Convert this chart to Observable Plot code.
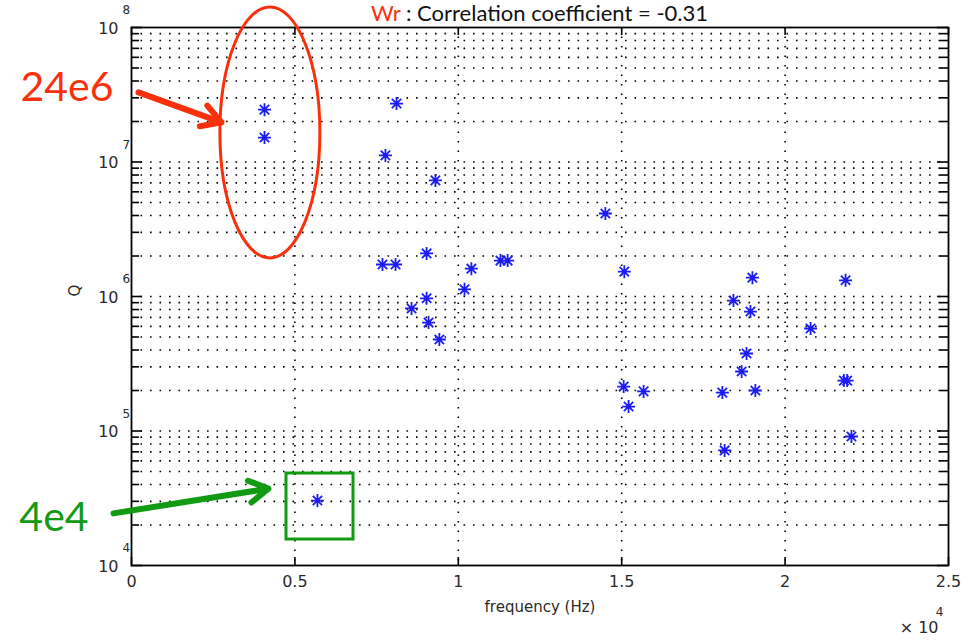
<!DOCTYPE html>
<html><head><meta charset="utf-8">
<script src="https://cdn.jsdelivr.net/npm/d3@7"></script>
<script src="https://cdn.jsdelivr.net/npm/@observablehq/plot@0.6"></script>
<style>body{margin:0;background:#fff;overflow:hidden} svg{display:block}</style>
</head><body><div id="chart"></div>
<script>
// ---- data (frequency in Hz, quality factor Q) ----
const freqHz = [4070, 4070, 8110, 7770, 9300, 7680, 8080, 9030, 10400, 10190, 11290, 11510,
  9030, 8570, 9090, 9420, 14500, 15080, 15060, 15210, 15670, 18080, 18150, 19000, 18420,
  18940, 18820, 18670, 19090, 20780, 21850, 21800, 21900, 22030, 5690];
const qValues = [2.45e7, 1.52e7, 2.72e7, 1.12e7, 7.3e6, 1.73e6, 1.73e6, 2.09e6, 1.61e6, 1.13e6, 1.85e6, 1.85e6,
  9.7e5, 8.15e5, 6.4e5, 4.79e5, 4.14e6, 1.53e6, 2.14e5, 1.52e5, 1.97e5, 1.93e5, 7.17e4, 1.38e6, 9.33e5,
  7.73e5, 3.77e5, 2.77e5, 2.0e5, 5.78e5, 1.32e6, 2.37e5, 2.37e5, 9.1e4, 3.04e4];

const xTicks = [0, 5000, 10000, 15000, 20000, 25000];
const xTickLabels = ["0", "0.5", "1", "1.5", "2", "2.5"];
const xGrid = [5000, 10000, 15000, 20000];
const yMajor = [1e4, 1e5, 1e6, 1e7, 1e8];
const yExponents = ["4", "5", "6", "7", "8"];
const titleRed = "Wr";
const titleRest = " : Correlation coefficient = -0.31";

// annotations (data coordinates)
const redLabel = ["24e6"];
const redLabelPos = [-1974, 3.58e7];
const redArrow = [214, 3.29e7, 2754, 1.97e7];
const redEllipse = [2720, 5780, 1.41e8, 1.92e6];   // x1, x2, y1, y2
const greenLabel = ["4e4"];
const greenLabelPos = [-2372, 2.26e4];
const greenArrow = [-551, 2.44e4, 4192, 3.73e4];
const greenRect = [4743, 6793, 4.83e4, 1.56e4];

const RED = "#f8300c", GREEN = "#139a13", BLUE = "#1c1cf0";

const W = 971, H = 644, ML = 131, MR = 23, MT = 27, MB = 79;
const FW = W - ML - MR, FH = H - MT - MB;

const points = freqHz.map((f, i) => ({f, q: qValues[i]}));
const yMinor = [];
for (let k = 0; k < yMajor.length - 1; k++) for (let m = 2; m <= 9; m++) yMinor.push(yMajor[k] * m);
const yGrid = yMinor.concat(yMajor.slice(1, -1));

const matlabStar = {
  draw(ctx, size) {
    const r = Math.sqrt(size / Math.PI);
    const d = r * 0.72;
    ctx.moveTo(-r, 0); ctx.lineTo(r, 0);
    ctx.moveTo(0, -r); ctx.lineTo(0, r);
    ctx.moveTo(-d, -d); ctx.lineTo(d, d);
    ctx.moveTo(-d, d); ctx.lineTo(d, -d);
  }
};

const dotted = {stroke: "#000", strokeWidth: 1.6, strokeDasharray: "1.6 7.9"};
const axisFont = "DejaVu Sans, sans-serif";
const axisColor = "#2a2a2a";
const tk = {stroke: "#000", strokeWidth: 1.6};

const plot = Plot.plot({
  width: W, height: H,
  marginLeft: ML, marginRight: MR, marginTop: MT, marginBottom: MB,
  style: {background: "#fff", fontFamily: axisFont, overflow: "visible"},
  x: {domain: [0, 25000], axis: null},
  y: {type: "log", domain: [1e4, 1e8], axis: null},
  marks: [
    Plot.ruleY(yGrid, dotted),
    Plot.ruleX(xGrid, dotted),
    // inward ticks (MATLAB style)
    Plot.ruleY(yMinor, {...tk, insetRight: FW - 8}),
    Plot.ruleY(yMinor, {...tk, insetLeft: FW - 8}),
    Plot.ruleY(yMajor, {...tk, insetRight: FW - 11}),
    Plot.ruleY(yMajor, {...tk, insetLeft: FW - 11}),
    Plot.ruleX(xTicks, {...tk, insetTop: FH - 8}),
    Plot.ruleX(xTicks, {...tk, insetBottom: FH - 8}),
    Plot.frame({stroke: "#000", strokeWidth: 1.8}),
    Plot.dot(points, {x: "f", y: "q", symbol: matlabStar, r: 6.5, stroke: BLUE, strokeWidth: 1.8}),
    // y tick labels
    Plot.text(yMajor, {y: d => d, frameAnchor: "left", text: () => "10", dx: -13, dy: 1, textAnchor: "end",
      fontSize: 16, fill: axisColor}),
    Plot.text(yMajor, {y: d => d, frameAnchor: "left", text: (d, i) => yExponents[i], dx: -9, dy: -17,
      textAnchor: "start", fontSize: 12, fill: axisColor}),
    // x tick labels
    Plot.text(xTicks, {x: d => d, frameAnchor: "bottom", text: (d, i) => xTickLabels[i], dy: 21,
      fontSize: 16, fill: axisColor}),
    Plot.text(["frequency (Hz)"], {frameAnchor: "bottom", dy: 46, fontSize: 15, fill: axisColor}),
    Plot.text(["× 10"], {frameAnchor: "bottom-right", dx: -10, dy: 67, textAnchor: "end", fontSize: 16, fill: axisColor}),
    Plot.text(["4"], {frameAnchor: "bottom-right", dx: -5, dy: 50, fontSize: 12, fill: axisColor}),
    Plot.text(["Q"], {frameAnchor: "left", dx: -56, rotate: -90, fontSize: 15, fill: axisColor}),
    // annotations
    Plot.text(redLabel, {x: () => redLabelPos[0], y: () => redLabelPos[1], fontSize: 41, fontFamily: "Lato, sans-serif", fill: RED}),
    Plot.arrow([redArrow], {x1: d => d[0], y1: d => d[1], x2: d => d[2], y2: d => d[3], stroke: RED, strokeWidth: 6, headLength: 5.5}),
    Plot.text(greenLabel, {x: () => greenLabelPos[0], y: () => greenLabelPos[1], fontSize: 41, fontFamily: "Lato, sans-serif", fill: GREEN}),
    Plot.arrow([greenArrow], {x1: d => d[0], y1: d => d[1], x2: d => d[2], y2: d => d[3], stroke: GREEN, strokeWidth: 6, headLength: 5.5}),
    Plot.rect([greenRect], {x1: d => d[0], x2: d => d[1], y1: d => d[2], y2: d => d[3], fill: "none", stroke: GREEN, strokeWidth: 3})
  ]
});
document.getElementById("chart").appendChild(plot);

const sx = plot.scale("x"), sy = plot.scale("y");
const svg = d3.select(plot);
// ellipse annotation
const ex1 = sx.apply(redEllipse[0]), ex2 = sx.apply(redEllipse[1]);
const ey1 = sy.apply(redEllipse[2]), ey2 = sy.apply(redEllipse[3]);
svg.append("ellipse")
  .attr("cx", (ex1 + ex2) / 2).attr("cy", (ey1 + ey2) / 2)
  .attr("rx", Math.abs(ex2 - ex1) / 2).attr("ry", Math.abs(ey2 - ey1) / 2)
  .attr("fill", "none").attr("stroke", RED).attr("stroke-width", 3);

// title above the frame
const titleFont = "Lato, sans-serif";
const ctx = document.createElement("canvas").getContext("2d");
ctx.font = `24px ${titleFont}`;
const w = ctx.measureText(titleRed + titleRest).width;
const fs = Math.min(22, 24 * 402 / w);
const t = svg.append("text")
  .attr("x", (sx.apply(0) + sx.apply(25000)) / 2).attr("y", 21)
  .attr("text-anchor", "middle").attr("font-family", titleFont).attr("font-size", fs);
t.append("tspan").attr("fill", RED).text(titleRed);
t.append("tspan").attr("fill", "#111").text(titleRest);
</script>
</body></html>
